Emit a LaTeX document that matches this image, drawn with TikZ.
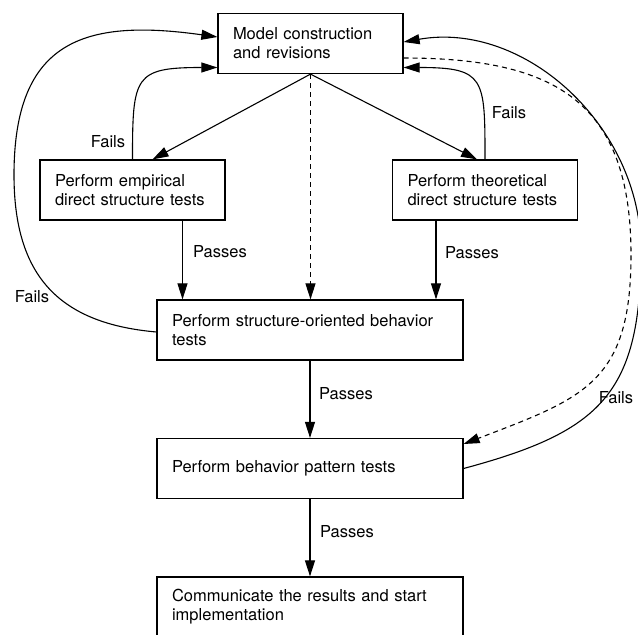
\documentclass[tikz,border=0pt]{standalone}
\usepackage{fontspec}
\setmainfont{TeX Gyre Heros}
\usetikzlibrary{arrows.meta}

\begin{document}
\begin{tikzpicture}[x=1pt, y=1pt,
    every node/.style={font=\fontsize{16.5}{19}\selectfont},
    box/.style={
    draw,
    line width=1.2pt,
    rectangle,
    minimum height=60pt,
    inner xsep=15pt,
    inner ysep=0pt,
    align=left},
    tag/.style={inner sep=0pt},
    flow/.style={line width=1.1pt, -{Triangle[length=16pt, width=10pt]}},
    dashflow/.style={flow, dash pattern=on 5pt off 4pt}]

    \useasboundingbox (0,0) rectangle (638,635);

    \node[box, text width=155pt] (model) at (310.5,591.5) {Model construction\\and revisions};
    \node[box, text width=155pt] (emp) at (132.5,445) {Perform empirical\\direct structure tests};
    \node[box, text width=155pt] (theo) at (485,445) {Perform theoretical\\direct structure tests};

    \node[box, text width=276pt] (struct) at (310,305) {Perform structure-oriented behavior\\tests};
    \node[box, text width=276pt] (behav) at (310,166.5) {Perform behavior pattern tests};
    \node[box, text width=276pt] (comm) at (310,28) {Communicate the results and start\\implementation};

    \coordinate (lbend) at (14,460);
    \coordinate (rbend) at (641,385);
    \coordinate (dbend) at (631,380);

    \draw[flow] (model.south) -- ([xshift=20pt]emp.north);
    \draw[flow] (model.south) -- ([xshift=-8pt]theo.north);
    \draw[dashflow] (model.south) -- (model.south |- struct.north);

    \draw[flow] ([xshift=50pt]emp.south) -- ([xshift=50pt]emp.south |- struct.north);
    \draw[flow] ([xshift=-49pt]theo.south) -- ([xshift=-49pt]theo.south |- struct.north);
    \draw[flow] (struct.south) -- (behav.north);
    \draw[flow] (behav.south) -- (comm.north);

    \draw[flow] (emp.north) to[out=90, in=180, looseness=1.7] ([yshift=-24pt]model.west);
    \draw[flow] (theo.north) to[out=90, in=0, looseness=1.7] ([yshift=-24pt]model.east);

    \draw[flow] ([yshift=-2pt]struct.west) to[out=175, in=-90, looseness=1.2] (lbend)
        to[out=90, in=172, looseness=1.4] ([yshift=6.5pt]model.west);
    \draw[flow] (behav.east) to[out=15, in=-90, looseness=1.3] (rbend)
        to[out=90, in=10] ([yshift=1.5pt]model.east);
    \draw[dashflow] ([yshift=-14.5pt]model.east) to[out=0, in=90, looseness=1.3] (dbend)
        to[out=-90, in=21, looseness=1.3] ([yshift=24.5pt]behav.east);

    \node[tag] (failA) at (108,493) {Fails};
    \node[tag] (failB) at (509,522) {Fails};
    \node[tag] (failC) at (32,338) {Fails};
    \node[tag] (failD) at (616,237) {Fails};

    \node[tag] (passA) at (220,383) {Passes};
    \node[tag] (passB) at (472,382) {Passes};
    \node[tag] (passC) at (346,241) {Passes};
    \node[tag] (passD) at (347,103) {Passes};
\end{tikzpicture}
\end{document}
